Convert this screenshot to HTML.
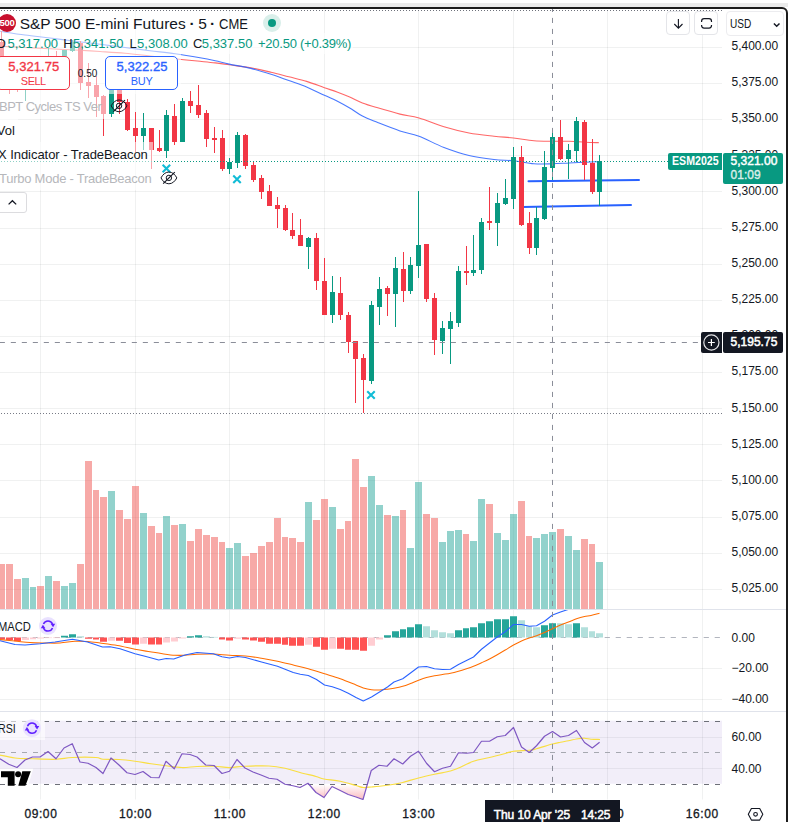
<!DOCTYPE html><html><head><meta charset="utf-8"><title>chart</title><style>
html,body{margin:0;padding:0;background:#fff;}
body{width:788px;height:822px;overflow:hidden;position:relative;font-family:"Liberation Sans",sans-serif;}
#root{position:absolute;left:0;top:0;width:788px;height:822px;overflow:hidden;background:#fff;}
svg{position:absolute;left:0;top:0;}
.t{position:absolute;white-space:nowrap;line-height:20px;height:20px;}
.b{position:absolute;}
#band{position:absolute;left:0;top:3px;width:788px;height:4px;background:#ebebeb;}
#frame{position:absolute;left:-10px;top:7px;width:794px;height:830px;border:2px solid #1c1c1c;border-radius:6px;box-sizing:content-box;}
</style></head><body><div id="root"><svg id="chart" width="788" height="822" viewBox="0 0 788 822" shape-rendering="auto"><line x1="40.5" y1="10" x2="40.5" y2="799.5" stroke="#202a2a" stroke-opacity="0.066" stroke-width="1"/><line x1="135.5" y1="10" x2="135.5" y2="799.5" stroke="#202a2a" stroke-opacity="0.066" stroke-width="1"/><line x1="229.5" y1="10" x2="229.5" y2="799.5" stroke="#202a2a" stroke-opacity="0.066" stroke-width="1"/><line x1="324.5" y1="10" x2="324.5" y2="799.5" stroke="#202a2a" stroke-opacity="0.066" stroke-width="1"/><line x1="418.5" y1="10" x2="418.5" y2="799.5" stroke="#202a2a" stroke-opacity="0.066" stroke-width="1"/><line x1="513.5" y1="10" x2="513.5" y2="799.5" stroke="#202a2a" stroke-opacity="0.066" stroke-width="1"/><line x1="607.5" y1="10" x2="607.5" y2="799.5" stroke="#202a2a" stroke-opacity="0.066" stroke-width="1"/><line x1="702.5" y1="10" x2="702.5" y2="799.5" stroke="#202a2a" stroke-opacity="0.066" stroke-width="1"/><line x1="0" y1="47.5" x2="722" y2="47.5" stroke="#202a2a" stroke-opacity="0.066" stroke-width="1"/><line x1="0" y1="83.5" x2="722" y2="83.5" stroke="#202a2a" stroke-opacity="0.066" stroke-width="1"/><line x1="0" y1="119.5" x2="722" y2="119.5" stroke="#202a2a" stroke-opacity="0.066" stroke-width="1"/><line x1="0" y1="155.5" x2="722" y2="155.5" stroke="#202a2a" stroke-opacity="0.066" stroke-width="1"/><line x1="0" y1="191.5" x2="722" y2="191.5" stroke="#202a2a" stroke-opacity="0.066" stroke-width="1"/><line x1="0" y1="228.5" x2="722" y2="228.5" stroke="#202a2a" stroke-opacity="0.066" stroke-width="1"/><line x1="0" y1="264.5" x2="722" y2="264.5" stroke="#202a2a" stroke-opacity="0.066" stroke-width="1"/><line x1="0" y1="300.5" x2="722" y2="300.5" stroke="#202a2a" stroke-opacity="0.066" stroke-width="1"/><line x1="0" y1="336.5" x2="722" y2="336.5" stroke="#202a2a" stroke-opacity="0.066" stroke-width="1"/><line x1="0" y1="372.5" x2="722" y2="372.5" stroke="#202a2a" stroke-opacity="0.066" stroke-width="1"/><line x1="0" y1="408.5" x2="722" y2="408.5" stroke="#202a2a" stroke-opacity="0.066" stroke-width="1"/><line x1="0" y1="444.5" x2="722" y2="444.5" stroke="#202a2a" stroke-opacity="0.066" stroke-width="1"/><line x1="0" y1="480.5" x2="722" y2="480.5" stroke="#202a2a" stroke-opacity="0.066" stroke-width="1"/><line x1="0" y1="517.5" x2="722" y2="517.5" stroke="#202a2a" stroke-opacity="0.066" stroke-width="1"/><line x1="0" y1="553.5" x2="722" y2="553.5" stroke="#202a2a" stroke-opacity="0.066" stroke-width="1"/><line x1="0" y1="589.5" x2="722" y2="589.5" stroke="#202a2a" stroke-opacity="0.066" stroke-width="1"/><line x1="0" y1="668.5" x2="722" y2="668.5" stroke="#202a2a" stroke-opacity="0.066" stroke-width="1"/><line x1="0" y1="699.5" x2="722" y2="699.5" stroke="#202a2a" stroke-opacity="0.066" stroke-width="1"/><line x1="0" y1="737.5" x2="722" y2="737.5" stroke="#202a2a" stroke-opacity="0.066" stroke-width="1"/><line x1="0" y1="768.5" x2="722" y2="768.5" stroke="#202a2a" stroke-opacity="0.066" stroke-width="1"/><rect x="0" y="720.7" width="722" height="63.1" fill="#7e57c2" fill-opacity="0.1"/><rect x="-2" y="564" width="7" height="45" fill="#ef5350" fill-opacity="0.5"/><rect x="6" y="564" width="7" height="45" fill="#ef5350" fill-opacity="0.5"/><rect x="14" y="579" width="7" height="30" fill="#ef5350" fill-opacity="0.5"/><rect x="22" y="578" width="7" height="31" fill="#26a69a" fill-opacity="0.5"/><rect x="30" y="587" width="6" height="22" fill="#26a69a" fill-opacity="0.5"/><rect x="37" y="586" width="7" height="23" fill="#ef5350" fill-opacity="0.5"/><rect x="45" y="576" width="7" height="33" fill="#26a69a" fill-opacity="0.5"/><rect x="53" y="581" width="7" height="28" fill="#ef5350" fill-opacity="0.5"/><rect x="61" y="586" width="7" height="23" fill="#26a69a" fill-opacity="0.5"/><rect x="69" y="583" width="7" height="26" fill="#26a69a" fill-opacity="0.5"/><rect x="77" y="564" width="7" height="45" fill="#ef5350" fill-opacity="0.5"/><rect x="85" y="461" width="7" height="148" fill="#ef5350" fill-opacity="0.5"/><rect x="93" y="490" width="6" height="119" fill="#ef5350" fill-opacity="0.5"/><rect x="100" y="497" width="7" height="112" fill="#ef5350" fill-opacity="0.5"/><rect x="108" y="491" width="7" height="118" fill="#26a69a" fill-opacity="0.5"/><rect x="116" y="510" width="7" height="99" fill="#ef5350" fill-opacity="0.5"/><rect x="124" y="519" width="7" height="90" fill="#ef5350" fill-opacity="0.5"/><rect x="132" y="486" width="7" height="123" fill="#ef5350" fill-opacity="0.5"/><rect x="140" y="513" width="7" height="96" fill="#26a69a" fill-opacity="0.5"/><rect x="148" y="526" width="7" height="83" fill="#ef5350" fill-opacity="0.5"/><rect x="156" y="533" width="6" height="76" fill="#ef5350" fill-opacity="0.5"/><rect x="163" y="516" width="7" height="93" fill="#26a69a" fill-opacity="0.5"/><rect x="171" y="525" width="7" height="84" fill="#ef5350" fill-opacity="0.5"/><rect x="179" y="524" width="7" height="85" fill="#26a69a" fill-opacity="0.5"/><rect x="187" y="541" width="7" height="68" fill="#ef5350" fill-opacity="0.5"/><rect x="195" y="529" width="7" height="80" fill="#ef5350" fill-opacity="0.5"/><rect x="203" y="535" width="7" height="74" fill="#ef5350" fill-opacity="0.5"/><rect x="211" y="537" width="7" height="72" fill="#ef5350" fill-opacity="0.5"/><rect x="219" y="542" width="6" height="67" fill="#ef5350" fill-opacity="0.5"/><rect x="226" y="548" width="7" height="61" fill="#26a69a" fill-opacity="0.5"/><rect x="234" y="543" width="7" height="66" fill="#26a69a" fill-opacity="0.5"/><rect x="242" y="556" width="7" height="53" fill="#ef5350" fill-opacity="0.5"/><rect x="250" y="553" width="7" height="56" fill="#ef5350" fill-opacity="0.5"/><rect x="258" y="546" width="7" height="63" fill="#ef5350" fill-opacity="0.5"/><rect x="266" y="542" width="7" height="67" fill="#ef5350" fill-opacity="0.5"/><rect x="274" y="518" width="7" height="91" fill="#ef5350" fill-opacity="0.5"/><rect x="282" y="537" width="6" height="72" fill="#ef5350" fill-opacity="0.5"/><rect x="289" y="538" width="7" height="71" fill="#ef5350" fill-opacity="0.5"/><rect x="297" y="542" width="7" height="67" fill="#ef5350" fill-opacity="0.5"/><rect x="305" y="502" width="7" height="107" fill="#26a69a" fill-opacity="0.5"/><rect x="313" y="520" width="7" height="89" fill="#ef5350" fill-opacity="0.5"/><rect x="321" y="499" width="7" height="110" fill="#ef5350" fill-opacity="0.5"/><rect x="329" y="507" width="7" height="102" fill="#26a69a" fill-opacity="0.5"/><rect x="337" y="529" width="7" height="80" fill="#ef5350" fill-opacity="0.5"/><rect x="345" y="521" width="6" height="88" fill="#ef5350" fill-opacity="0.5"/><rect x="352" y="459" width="7" height="150" fill="#ef5350" fill-opacity="0.5"/><rect x="360" y="487" width="7" height="122" fill="#ef5350" fill-opacity="0.5"/><rect x="368" y="476" width="7" height="133" fill="#26a69a" fill-opacity="0.5"/><rect x="376" y="505" width="7" height="104" fill="#26a69a" fill-opacity="0.5"/><rect x="384" y="515" width="7" height="94" fill="#ef5350" fill-opacity="0.5"/><rect x="392" y="516" width="7" height="93" fill="#26a69a" fill-opacity="0.5"/><rect x="400" y="510" width="6" height="99" fill="#ef5350" fill-opacity="0.5"/><rect x="407" y="548" width="7" height="61" fill="#26a69a" fill-opacity="0.5"/><rect x="415" y="482" width="7" height="127" fill="#26a69a" fill-opacity="0.5"/><rect x="423" y="514" width="7" height="95" fill="#ef5350" fill-opacity="0.5"/><rect x="431" y="518" width="7" height="91" fill="#ef5350" fill-opacity="0.5"/><rect x="439" y="542" width="7" height="67" fill="#26a69a" fill-opacity="0.5"/><rect x="447" y="531" width="7" height="78" fill="#26a69a" fill-opacity="0.5"/><rect x="455" y="530" width="7" height="79" fill="#26a69a" fill-opacity="0.5"/><rect x="463" y="534" width="6" height="75" fill="#ef5350" fill-opacity="0.5"/><rect x="470" y="541" width="7" height="68" fill="#26a69a" fill-opacity="0.5"/><rect x="478" y="499" width="7" height="110" fill="#26a69a" fill-opacity="0.5"/><rect x="486" y="504" width="7" height="105" fill="#ef5350" fill-opacity="0.5"/><rect x="494" y="533" width="7" height="76" fill="#26a69a" fill-opacity="0.5"/><rect x="502" y="540" width="7" height="69" fill="#26a69a" fill-opacity="0.5"/><rect x="510" y="514" width="7" height="95" fill="#26a69a" fill-opacity="0.5"/><rect x="518" y="501" width="7" height="108" fill="#ef5350" fill-opacity="0.5"/><rect x="526" y="536" width="6" height="73" fill="#ef5350" fill-opacity="0.5"/><rect x="533" y="538" width="7" height="71" fill="#26a69a" fill-opacity="0.5"/><rect x="541" y="534" width="7" height="75" fill="#26a69a" fill-opacity="0.5"/><rect x="549" y="532" width="7" height="77" fill="#26a69a" fill-opacity="0.5"/><rect x="557" y="529" width="7" height="80" fill="#ef5350" fill-opacity="0.5"/><rect x="565" y="536" width="7" height="73" fill="#26a69a" fill-opacity="0.5"/><rect x="573" y="550" width="7" height="59" fill="#26a69a" fill-opacity="0.5"/><rect x="581" y="539" width="7" height="70" fill="#ef5350" fill-opacity="0.5"/><rect x="589" y="544" width="6" height="65" fill="#ef5350" fill-opacity="0.5"/><rect x="596" y="562" width="7" height="47" fill="#26a69a" fill-opacity="0.5"/><line x1="1" y1="413.5" x2="722" y2="413.5" stroke="#787b86" stroke-width="1" stroke-dasharray="1 2"/><path d="M0 46.25C4.17 46.46 16.67 47.08 25 47.5C33.33 47.92 41.67 48.33 50 48.75C58.33 49.17 66.67 49.54 75 50C83.33 50.46 91.67 50.96 100 51.5C108.33 52.04 116.67 52.5 125 53.25C133.33 54 141.67 55.08 150 56C158.33 56.92 166.67 57.92 175 58.8C183.33 59.68 193.3 60.62 200 61.3C206.7 61.98 210.33 62.32 215.2 62.9C220.07 63.48 223.27 63.98 229.2 64.8C235.13 65.62 243.83 66.57 250.8 67.8C257.77 69.03 264.67 70.7 271 72.2C277.33 73.7 282.87 75.27 288.8 76.8C294.73 78.33 300.67 79.58 306.6 81.4C312.53 83.22 319.33 85.93 324.4 87.7C329.47 89.47 332.78 90.43 337 92C341.22 93.57 345.47 95.28 349.7 97.1C353.93 98.92 357.73 101.12 362.4 102.9C367.07 104.68 371.43 105.93 377.7 107.8C383.97 109.67 393.12 112.4 400 114.1C406.88 115.8 411.67 115.89 419 118C426.33 120.11 435.67 124.25 444 126.75C452.33 129.25 460.67 131.42 469 133C477.33 134.58 486.58 135.42 494 136.25C501.42 137.08 506.83 137.25 513.5 138C520.17 138.75 527.5 140.21 534 140.75C540.5 141.29 546.67 141.17 552.5 141.25C558.33 141.33 562.58 141.04 569 141.25C575.42 141.46 586.03 142.28 591 142.5C595.97 142.72 597.5 142.58 598.8 142.6" fill="none" stroke="#ff5252" stroke-opacity="0.88" stroke-width="1.1" stroke-linejoin="round"/><path d="M0 31.25C4.17 31.88 16.67 33.88 25 35C33.33 36.12 41.67 36.96 50 38C58.33 39.04 66.67 40.21 75 41.25C83.33 42.29 91.67 43.21 100 44.25C108.33 45.29 116.67 46.42 125 47.5C133.33 48.58 141.67 49.71 150 50.75C158.33 51.79 166.67 52.58 175 53.75C183.33 54.92 193.3 56.62 200 57.8C206.7 58.97 210.33 59.75 215.2 60.8C220.07 61.85 223.27 62.83 229.2 64.1C235.13 65.37 243.83 66.7 250.8 68.4C257.77 70.1 264.67 72.27 271 74.3C277.33 76.33 282.87 78.48 288.8 80.6C294.73 82.72 300.67 84.55 306.6 87C312.53 89.45 319.33 92.98 324.4 95.3C329.47 97.62 332.78 98.78 337 100.9C341.22 103.02 345.47 105.47 349.7 108C353.93 110.53 357.73 113.68 362.4 116.1C367.07 118.52 371.43 120.03 377.7 122.5C383.97 124.97 393.12 128.61 400 130.9C406.88 133.19 411.67 133.48 419 136.25C426.33 139.02 435.67 144.29 444 147.5C452.33 150.71 460.67 153.5 469 155.5C477.33 157.5 486.58 158.62 494 159.5C501.42 160.38 506.83 160.04 513.5 160.75C520.17 161.46 527.5 163.25 534 163.75C540.5 164.25 546.67 163.88 552.5 163.75C558.33 163.62 562.58 163.29 569 163C575.42 162.71 586.17 162.2 591 162C595.83 161.8 596.83 161.83 598 161.8" fill="none" stroke="#2962ff" stroke-opacity="0.85" stroke-width="1.1" stroke-linejoin="round"/><line x1="528.5" y1="181.3" x2="639" y2="180" stroke="#2962ff" stroke-width="2" stroke-linecap="round"/><line x1="522.5" y1="207" x2="631" y2="205" stroke="#2962ff" stroke-width="2" stroke-linecap="round"/><rect x="1" y="31" width="1" height="29" fill="#f23645"/><rect x="-1" y="42" width="5" height="15" fill="#f23645"/><rect x="9" y="60" width="1" height="34" fill="#f23645"/><rect x="7" y="62" width="5" height="24" fill="#f23645"/><rect x="17" y="68" width="1" height="24" fill="#f23645"/><rect x="15" y="70" width="5" height="18" fill="#f23645"/><rect x="25" y="70" width="1" height="31" fill="#089981"/><rect x="23" y="75" width="5" height="15" fill="#089981"/><rect x="33" y="58" width="1" height="24" fill="#089981"/><rect x="31" y="62" width="5" height="16" fill="#089981"/><rect x="40" y="58" width="1" height="14" fill="#f23645"/><rect x="38" y="60" width="5" height="6" fill="#f23645"/><rect x="48" y="48" width="1" height="22" fill="#089981"/><rect x="46" y="56" width="5" height="8" fill="#089981"/><rect x="56" y="51" width="1" height="15" fill="#f23645"/><rect x="54" y="57" width="5" height="5" fill="#f23645"/><rect x="64" y="50" width="1" height="14" fill="#089981"/><rect x="62" y="50" width="5" height="12" fill="#089981"/><rect x="72" y="40" width="1" height="12" fill="#089981"/><rect x="70" y="42" width="5" height="9" fill="#089981"/><rect x="80" y="41" width="1" height="49" fill="#f23645"/><rect x="78" y="43" width="5" height="40" fill="#f23645"/><rect x="88" y="63" width="1" height="35" fill="#f23645"/><rect x="86" y="82" width="5" height="4" fill="#f23645"/><rect x="96" y="76" width="1" height="41" fill="#f23645"/><rect x="94" y="85" width="5" height="12" fill="#f23645"/><rect x="103" y="95" width="1" height="41" fill="#f23645"/><rect x="101" y="96" width="5" height="18" fill="#f23645"/><rect x="111" y="88" width="1" height="29" fill="#089981"/><rect x="109" y="90" width="5" height="24" fill="#089981"/><rect x="119" y="86" width="1" height="28" fill="#f23645"/><rect x="117" y="88" width="5" height="14" fill="#f23645"/><rect x="127" y="99" width="1" height="32" fill="#f23645"/><rect x="125" y="102" width="5" height="28" fill="#f23645"/><rect x="135" y="112" width="1" height="40" fill="#f23645"/><rect x="133" y="128" width="5" height="8" fill="#f23645"/><rect x="143" y="113" width="1" height="37" fill="#089981"/><rect x="141" y="128" width="5" height="8" fill="#089981"/><rect x="151" y="128" width="1" height="41" fill="#f23645"/><rect x="149" y="128" width="5" height="22" fill="#f23645"/><rect x="159" y="130" width="1" height="22" fill="#f23645"/><rect x="157" y="148" width="5" height="3" fill="#f23645"/><rect x="166" y="110" width="1" height="48" fill="#089981"/><rect x="164" y="115" width="5" height="36" fill="#089981"/><rect x="174" y="104" width="1" height="41" fill="#f23645"/><rect x="172" y="116" width="5" height="26" fill="#f23645"/><rect x="182" y="98" width="1" height="44" fill="#089981"/><rect x="180" y="101" width="5" height="41" fill="#089981"/><rect x="190" y="91" width="1" height="22" fill="#f23645"/><rect x="188" y="101" width="5" height="5" fill="#f23645"/><rect x="198" y="85" width="1" height="33" fill="#f23645"/><rect x="196" y="105" width="5" height="10" fill="#f23645"/><rect x="206" y="110" width="1" height="37" fill="#f23645"/><rect x="204" y="113" width="5" height="26" fill="#f23645"/><rect x="214" y="127" width="1" height="26" fill="#f23645"/><rect x="212" y="138" width="5" height="2" fill="#f23645"/><rect x="222" y="130" width="1" height="41" fill="#f23645"/><rect x="220" y="138" width="5" height="31" fill="#f23645"/><rect x="229" y="158" width="1" height="16" fill="#089981"/><rect x="227" y="162" width="5" height="7" fill="#089981"/><rect x="237" y="132" width="1" height="36" fill="#089981"/><rect x="235" y="135" width="5" height="28" fill="#089981"/><rect x="245" y="134" width="1" height="35" fill="#f23645"/><rect x="243" y="135" width="5" height="31" fill="#f23645"/><rect x="253" y="162" width="1" height="20" fill="#f23645"/><rect x="251" y="165" width="5" height="15" fill="#f23645"/><rect x="261" y="175" width="1" height="24" fill="#f23645"/><rect x="259" y="178" width="5" height="14" fill="#f23645"/><rect x="269" y="185" width="1" height="21" fill="#f23645"/><rect x="267" y="191" width="5" height="15" fill="#f23645"/><rect x="277" y="197" width="1" height="31" fill="#f23645"/><rect x="275" y="205" width="5" height="4" fill="#f23645"/><rect x="285" y="205" width="1" height="26" fill="#f23645"/><rect x="283" y="208" width="5" height="22" fill="#f23645"/><rect x="292" y="213" width="1" height="26" fill="#f23645"/><rect x="290" y="230" width="5" height="6" fill="#f23645"/><rect x="300" y="219" width="1" height="27" fill="#f23645"/><rect x="298" y="235" width="5" height="11" fill="#f23645"/><rect x="308" y="237" width="1" height="32" fill="#089981"/><rect x="306" y="238" width="5" height="9" fill="#089981"/><rect x="316" y="233" width="1" height="57" fill="#f23645"/><rect x="314" y="238" width="5" height="43" fill="#f23645"/><rect x="324" y="258" width="1" height="57" fill="#f23645"/><rect x="322" y="281" width="5" height="34" fill="#f23645"/><rect x="332" y="276" width="1" height="47" fill="#089981"/><rect x="330" y="292" width="5" height="23" fill="#089981"/><rect x="340" y="277" width="1" height="43" fill="#f23645"/><rect x="338" y="293" width="5" height="22" fill="#f23645"/><rect x="348" y="312" width="1" height="41" fill="#f23645"/><rect x="346" y="315" width="5" height="27" fill="#f23645"/><rect x="355" y="341" width="1" height="62" fill="#f23645"/><rect x="353" y="341" width="5" height="18" fill="#f23645"/><rect x="363" y="354" width="1" height="59" fill="#f23645"/><rect x="361" y="358" width="5" height="22" fill="#f23645"/><rect x="371" y="301" width="1" height="83" fill="#089981"/><rect x="369" y="305" width="5" height="76" fill="#089981"/><rect x="379" y="277" width="1" height="48" fill="#089981"/><rect x="377" y="289" width="5" height="18" fill="#089981"/><rect x="387" y="286" width="1" height="30" fill="#f23645"/><rect x="385" y="288" width="5" height="6" fill="#f23645"/><rect x="395" y="257" width="1" height="70" fill="#089981"/><rect x="393" y="268" width="5" height="26" fill="#089981"/><rect x="403" y="252" width="1" height="50" fill="#f23645"/><rect x="401" y="269" width="5" height="22" fill="#f23645"/><rect x="410" y="257" width="1" height="37" fill="#089981"/><rect x="408" y="265" width="5" height="26" fill="#089981"/><rect x="418" y="191" width="1" height="87" fill="#089981"/><rect x="416" y="245" width="5" height="21" fill="#089981"/><rect x="426" y="244" width="1" height="58" fill="#f23645"/><rect x="424" y="244" width="5" height="55" fill="#f23645"/><rect x="434" y="293" width="1" height="62" fill="#f23645"/><rect x="432" y="298" width="5" height="42" fill="#f23645"/><rect x="442" y="321" width="1" height="33" fill="#089981"/><rect x="440" y="328" width="5" height="13" fill="#089981"/><rect x="450" y="312" width="1" height="52" fill="#089981"/><rect x="448" y="321" width="5" height="8" fill="#089981"/><rect x="458" y="266" width="1" height="61" fill="#089981"/><rect x="456" y="271" width="5" height="52" fill="#089981"/><rect x="466" y="246" width="1" height="39" fill="#f23645"/><rect x="464" y="271" width="5" height="2" fill="#f23645"/><rect x="473" y="235" width="1" height="41" fill="#089981"/><rect x="471" y="270" width="5" height="3" fill="#089981"/><rect x="481" y="218" width="1" height="56" fill="#089981"/><rect x="479" y="222" width="5" height="48" fill="#089981"/><rect x="489" y="187" width="1" height="43" fill="#f23645"/><rect x="487" y="221" width="5" height="2" fill="#f23645"/><rect x="497" y="193" width="1" height="53" fill="#089981"/><rect x="495" y="203" width="5" height="20" fill="#089981"/><rect x="505" y="179" width="1" height="26" fill="#089981"/><rect x="503" y="198" width="5" height="6" fill="#089981"/><rect x="513" y="147" width="1" height="62" fill="#089981"/><rect x="511" y="157" width="5" height="42" fill="#089981"/><rect x="521" y="146" width="1" height="80" fill="#f23645"/><rect x="519" y="157" width="5" height="68" fill="#f23645"/><rect x="529" y="212" width="1" height="42" fill="#f23645"/><rect x="527" y="223" width="5" height="25" fill="#f23645"/><rect x="536" y="207" width="1" height="48" fill="#089981"/><rect x="534" y="218" width="5" height="30" fill="#089981"/><rect x="544" y="151" width="1" height="69" fill="#089981"/><rect x="542" y="167" width="5" height="52" fill="#089981"/><rect x="552" y="133" width="1" height="47" fill="#089981"/><rect x="550" y="137" width="5" height="31" fill="#089981"/><rect x="560" y="120" width="1" height="40" fill="#f23645"/><rect x="558" y="137" width="5" height="22" fill="#f23645"/><rect x="568" y="144" width="1" height="35" fill="#089981"/><rect x="566" y="150" width="5" height="9" fill="#089981"/><rect x="576" y="117" width="1" height="45" fill="#089981"/><rect x="574" y="121" width="5" height="30" fill="#089981"/><rect x="584" y="120" width="1" height="60" fill="#f23645"/><rect x="582" y="122" width="5" height="43" fill="#f23645"/><rect x="592" y="139" width="1" height="55" fill="#f23645"/><rect x="590" y="163" width="5" height="29" fill="#f23645"/><rect x="599" y="155" width="1" height="51" fill="#089981"/><rect x="597" y="161" width="5" height="31" fill="#089981"/><line x1="1" y1="161.5" x2="668" y2="161.5" stroke="#089981" stroke-width="1" stroke-dasharray="1 2"/><path d="M162.65 164.85L170.15 172.35M170.15 164.85L162.65 172.35" stroke="#12bcd6" stroke-width="2.1" fill="none"/><path d="M233.25 175.55L240.75 183.05M240.75 175.55L233.25 183.05" stroke="#12bcd6" stroke-width="2.1" fill="none"/><path d="M367.25 391.25L374.75 398.75M374.75 391.25L367.25 398.75" stroke="#12bcd6" stroke-width="2.1" fill="none"/><line x1="0" y1="609.5" x2="786" y2="609.5" stroke="#e0e3eb" stroke-width="1"/><line x1="0" y1="711.5" x2="786" y2="711.5" stroke="#e0e3eb" stroke-width="1"/><clipPath id="cm"><rect x="0" y="610" width="722" height="101"/></clipPath><g clip-path="url(#cm)"><line x1="-0.3" y1="637.5" x2="722" y2="637.5" stroke="#b2b5be" stroke-width="1" stroke-dasharray="5.2 5.8"/><rect x="-2" y="637.5" width="7" height="2" fill="#ff5252"/><rect x="6" y="637.5" width="7" height="2.5" fill="#ff5252"/><rect x="14" y="637.5" width="7" height="3.75" fill="#ff5252"/><rect x="22" y="637.5" width="7" height="2.5" fill="#ffcdd2"/><rect x="30" y="637.5" width="6" height="1.75" fill="#ffcdd2"/><rect x="37" y="637.5" width="7" height="1" fill="#ffcdd2"/><rect x="45" y="637.5" width="7" height="0.6" fill="#ffcdd2"/><rect x="53" y="637.5" width="7" height="0.6" fill="#ffcdd2"/><rect x="61" y="635.75" width="7" height="1.75" fill="#26a69a"/><rect x="69" y="634.25" width="7" height="3.25" fill="#26a69a"/><rect x="77" y="636.25" width="7" height="1.25" fill="#b2dfdb"/><rect x="85" y="637.5" width="7" height="1.25" fill="#ff5252"/><rect x="93" y="637.5" width="6" height="2" fill="#ff5252"/><rect x="100" y="637.5" width="7" height="4.25" fill="#ff5252"/><rect x="108" y="637.5" width="7" height="3.25" fill="#ffcdd2"/><rect x="116" y="637.5" width="7" height="3.25" fill="#ff5252"/><rect x="124" y="637.5" width="7" height="5.5" fill="#ff5252"/><rect x="132" y="637.5" width="7" height="7" fill="#ff5252"/><rect x="140" y="637.5" width="7" height="6.25" fill="#ffcdd2"/><rect x="148" y="637.5" width="7" height="7" fill="#ff5252"/><rect x="156" y="637.5" width="6" height="7" fill="#ff5252"/><rect x="163" y="637.5" width="7" height="5" fill="#ffcdd2"/><rect x="171" y="637.5" width="7" height="4" fill="#ffcdd2"/><rect x="179" y="637.5" width="7" height="1" fill="#ffcdd2"/><rect x="187" y="636.25" width="7" height="1.25" fill="#26a69a"/><rect x="195" y="635.25" width="7" height="2.25" fill="#26a69a"/><rect x="203" y="636.25" width="7" height="1.25" fill="#b2dfdb"/><rect x="211" y="636.9" width="7" height="0.6" fill="#b2dfdb"/><rect x="219" y="637.5" width="6" height="2" fill="#ff5252"/><rect x="226" y="637.5" width="7" height="3" fill="#ff5252"/><rect x="234" y="637.5" width="7" height="1.25" fill="#ffcdd2"/><rect x="242" y="637.5" width="7" height="2" fill="#ff5252"/><rect x="250" y="637.5" width="7" height="3" fill="#ff5252"/><rect x="258" y="637.5" width="7" height="4.25" fill="#ff5252"/><rect x="266" y="637.5" width="7" height="6.25" fill="#ff5252"/><rect x="274" y="637.5" width="7" height="6.25" fill="#ff5252"/><rect x="282" y="637.5" width="6" height="7.25" fill="#ff5252"/><rect x="289" y="637.5" width="7" height="8.25" fill="#ff5252"/><rect x="297" y="637.5" width="7" height="8.25" fill="#ff5252"/><rect x="305" y="637.5" width="7" height="7.25" fill="#ffcdd2"/><rect x="313" y="637.5" width="7" height="9.25" fill="#ff5252"/><rect x="321" y="637.5" width="7" height="12.25" fill="#ff5252"/><rect x="329" y="637.5" width="7" height="11.25" fill="#ffcdd2"/><rect x="337" y="637.5" width="7" height="11.25" fill="#ff5252"/><rect x="345" y="637.5" width="6" height="12.25" fill="#ff5252"/><rect x="352" y="637.5" width="7" height="12.25" fill="#ff5252"/><rect x="360" y="637.5" width="7" height="13.25" fill="#ff5252"/><rect x="368" y="637.5" width="7" height="8.25" fill="#ffcdd2"/><rect x="376" y="637.5" width="7" height="2" fill="#ffcdd2"/><rect x="384" y="635.25" width="7" height="2.25" fill="#26a69a"/><rect x="392" y="631.25" width="7" height="6.25" fill="#26a69a"/><rect x="400" y="629.25" width="6" height="8.25" fill="#26a69a"/><rect x="407" y="627.25" width="7" height="10.25" fill="#26a69a"/><rect x="415" y="624.25" width="7" height="13.25" fill="#26a69a"/><rect x="423" y="626.25" width="7" height="11.25" fill="#b2dfdb"/><rect x="431" y="630.25" width="7" height="7.25" fill="#b2dfdb"/><rect x="439" y="632.25" width="7" height="5.25" fill="#b2dfdb"/><rect x="447" y="633.25" width="7" height="4.25" fill="#b2dfdb"/><rect x="455" y="630.25" width="7" height="7.25" fill="#26a69a"/><rect x="463" y="628.25" width="6" height="9.25" fill="#26a69a"/><rect x="470" y="627.25" width="7" height="10.25" fill="#26a69a"/><rect x="478" y="623.25" width="7" height="14.25" fill="#26a69a"/><rect x="486" y="621.25" width="7" height="16.25" fill="#26a69a"/><rect x="494" y="619.25" width="7" height="18.25" fill="#26a69a"/><rect x="502" y="619.25" width="7" height="18.25" fill="#26a69a"/><rect x="510" y="616.25" width="7" height="21.25" fill="#26a69a"/><rect x="518" y="620.25" width="7" height="17.25" fill="#b2dfdb"/><rect x="526" y="626.25" width="6" height="11.25" fill="#b2dfdb"/><rect x="533" y="627.25" width="7" height="10.25" fill="#b2dfdb"/><rect x="541" y="625.25" width="7" height="12.25" fill="#26a69a"/><rect x="549" y="623.25" width="7" height="14.25" fill="#26a69a"/><rect x="557" y="623.25" width="7" height="14.25" fill="#b2dfdb"/><rect x="565" y="624.25" width="7" height="13.25" fill="#b2dfdb"/><rect x="573" y="623.25" width="7" height="14.25" fill="#26a69a"/><rect x="581" y="627.25" width="7" height="10.25" fill="#b2dfdb"/><rect x="589" y="631.25" width="6" height="6.25" fill="#b2dfdb"/><rect x="596" y="633.25" width="7" height="4.25" fill="#b2dfdb"/><path d="M0 639.6C2.5 639.83 10 640.5 15 641C20 641.5 25 642.27 30 642.6C35 642.93 40 642.93 45 643C50 643.07 55 643.29 60 643C65 642.71 70.42 641.5 75 641.25C79.58 641 83.33 641.21 87.5 641.5C91.67 641.79 95 642.33 100 643C105 643.67 111.67 644.46 117.5 645.5C123.33 646.54 129.58 648.21 135 649.25C140.42 650.29 145.42 651 150 651.75C154.58 652.5 158.33 653.17 162.5 653.75C166.67 654.33 171.25 655 175 655.25C178.75 655.5 181.33 655.42 185 655.25C188.67 655.08 192.29 654.46 197 654.25C201.71 654.04 207.83 653.83 213.25 654C218.67 654.17 224.12 654.92 229.5 655.25C234.88 655.58 240.17 655.5 245.5 656C250.83 656.5 256.17 657.38 261.5 658.25C266.83 659.12 272.21 660.12 277.5 661.25C282.79 662.38 288.12 663.75 293.25 665C298.38 666.25 303.04 667.29 308.25 668.75C313.46 670.21 319.17 672.08 324.5 673.75C329.83 675.42 335 676.88 340.25 678.75C345.5 680.62 352.17 683.46 356 685C359.83 686.54 360.67 687.21 363.25 688C365.83 688.79 368.79 689.42 371.5 689.75C374.21 690.08 376.83 690.08 379.5 690C382.17 689.92 385.08 689.54 387.5 689.25C389.92 688.96 391.46 688.75 394 688.25C396.54 687.75 400 687.04 402.75 686.25C405.5 685.46 407.88 684.5 410.5 683.5C413.12 682.5 415.83 681.25 418.5 680.25C421.17 679.25 423.83 678.25 426.5 677.5C429.17 676.75 431.83 676.25 434.5 675.75C437.17 675.25 439.83 674.92 442.5 674.5C445.17 674.08 447.83 673.79 450.5 673.25C453.17 672.71 455.83 672 458.5 671.25C461.17 670.5 464 669.58 466.5 668.75C469 667.92 471 667.25 473.5 666.25C476 665.25 478.83 663.96 481.5 662.75C484.17 661.54 486.88 660.33 489.5 659C492.12 657.67 494.62 656.25 497.25 654.75C499.88 653.25 502.54 651.62 505.25 650C507.96 648.38 510.79 646.5 513.5 645C516.21 643.5 518.88 642.17 521.5 641C524.12 639.83 526.75 638.88 529.25 638C531.75 637.12 533.96 636.67 536.5 635.75C539.04 634.83 541.83 633.67 544.5 632.5C547.17 631.33 549.83 630 552.5 628.75C555.17 627.5 557.83 626.12 560.5 625C563.17 623.88 565.83 623.04 568.5 622C571.17 620.96 573.83 619.67 576.5 618.75C579.17 617.83 582.08 617.04 584.5 616.5C586.92 615.96 588.5 616.04 591 615.5C593.5 614.96 598.08 613.62 599.5 613.25" fill="none" stroke="#ff6d00" stroke-width="1.05" stroke-linejoin="round"/><path d="M0 640.75 L15 644.5 L25 645 L40 643.75 L55 642 L72.5 639.25 L87.5 642 L102.5 647 L110 646.75 L120 648.75 L135 653.75 L145 656.25 L158.75 660 L166.25 658.5 L173.75 659 L185 655 L197 652.5 L213.25 653.75 L222 656.75 L229.5 658 L237.5 656.5 L245.5 657.5 L261.5 662 L277.5 666.25 L293.25 672.5 L300.25 674.25 L308.25 675.5 L316.5 679.5 L324.5 685 L332.25 686.75 L340.25 689.5 L348.25 693.25 L356 697.5 L363.25 701 L371.5 697 L379.5 692 L387.5 687 L394 682 L402.75 678.75 L410.5 673 L418.5 667 L426.5 666.5 L434.5 668.75 L442.5 669.5 L450.5 669.25 L458.5 664.5 L466.5 660.5 L473.5 657 L481.5 649.25 L489.5 643 L497.25 637 L505.25 631.75 L513.5 624.5 L521.5 624.5 L529.25 626.25 L536.5 625.75 L544.5 621.25 L552.5 615 L560.5 612 L566.5 610 L576.5 607 L600 603" fill="none" stroke="#2962ff" stroke-width="1.05" stroke-linejoin="round"/></g><clipPath id="cm2"><rect x="540" y="600" width="70" height="10"/></clipPath><clipPath id="cr"><rect x="0" y="712" width="722" height="88"/></clipPath><g clip-path="url(#cr)"><linearGradient id="os" x1="0" y1="784.5" x2="0" y2="800" gradientUnits="userSpaceOnUse"><stop offset="0" stop-color="#f23645" stop-opacity="0"/><stop offset="1" stop-color="#f23645" stop-opacity="0.35"/></linearGradient><clipPath id="below"><rect x="0" y="784.5" width="722" height="20"/></clipPath><path d="M0 758.75 L8.75 764.25 L17 767.5 L25 760 L32.5 757 L40 757 L48 751.5 L56 758.75 L64 748 L72.25 743.75 L80 762 L88 763.25 L96 767.5 L103 773.5 L111 758 L119 765 L127 772.75 L135 774.5 L143 771.5 L151 777.5 L159 777.75 L166 761.25 L174.25 768.75 L182 753.75 L190 754.5 L197 757 L205.75 765 L214 765.5 L222 773.5 L229.5 771.25 L237 759.5 L245 768 L253 772 L261 775 L269 778.25 L277 779.25 L285 784.25 L293 785.75 L300 787.5 L308 783.25 L316 792.5 L324 797.5 L332 786.5 L340.25 790.5 L348.25 794.5 L356 797 L363 799.5 L371.25 770.5 L379 765.25 L387 766.25 L394 758.75 L402.75 764 L410.5 756.25 L418.5 751.25 L426.5 763.25 L434.5 771.75 L442.5 768.25 L450.5 766.25 L458.5 752.75 L466.5 753.25 L473.5 752.5 L481.5 741.25 L489.5 741.25 L497.25 736.75 L505.25 735.5 L513.5 727.5 L521.5 747 L529.25 752.5 L536.5 745.75 L544.5 736.25 L552.5 731.5 L560.5 737 L568.5 735.5 L576.5 730.5 L584.5 742.5 L592.3 748 L599.6 742.3 L599.6 784.5 L0 784.5 Z" fill="url(#os)" clip-path="url(#below)"/><line x1="0" y1="721.5" x2="722" y2="721.5" stroke="#6d6f78" stroke-width="1" stroke-dasharray="5 6"/><line x1="0" y1="784.5" x2="722" y2="784.5" stroke="#6d6f78" stroke-width="1" stroke-dasharray="5 6"/><line x1="0" y1="752.5" x2="722" y2="752.5" stroke="#a6a8b0" stroke-width="1" stroke-dasharray="5 6"/><path d="M0 755C2.5 755.5 9.58 757.38 15 758C20.42 758.62 25.67 758.54 32.5 758.75C39.33 758.96 49.38 759.46 56 759.25C62.62 759.04 65.58 757.79 72.25 757.5C78.92 757.21 90.88 757.21 96 757.5C101.12 757.79 99.17 758.92 103 759.25C106.83 759.58 113.67 759.17 119 759.5C124.33 759.83 129.67 760.54 135 761.25C140.33 761.96 145.83 763 151 763.75C156.17 764.5 160.83 765.12 166 765.75C171.17 766.38 176.83 767.38 182 767.5C187.17 767.62 191.67 766.71 197 766.5C202.33 766.29 208.58 766.08 214 766.25C219.42 766.42 224.33 767.5 229.5 767.5C234.67 767.5 238.42 766.5 245 766.25C251.58 766 262.33 765.67 269 766C275.67 766.33 279.83 767.17 285 768.25C290.17 769.33 294.83 771.12 300 772.5C305.17 773.88 312 775.42 316 776.5C320 777.58 319.96 778.21 324 779C328.04 779.79 334.92 780.17 340.25 781.25C345.58 782.33 352.17 784.46 356 785.5C359.83 786.54 360.67 787.25 363.25 787.5C365.83 787.75 368.79 787.21 371.5 787C374.21 786.79 375.75 786.71 379.5 786.25C383.25 785.79 390.12 784.88 394 784.25C397.88 783.62 398.67 783.54 402.75 782.5C406.83 781.46 413.21 779.38 418.5 778C423.79 776.62 429.17 775.42 434.5 774.25C439.83 773.08 446.5 772.04 450.5 771C454.5 769.96 454.67 769.62 458.5 768C462.33 766.38 468.33 763 473.5 761.25C478.67 759.5 484.21 758.79 489.5 757.5C494.79 756.21 501.25 754.54 505.25 753.5C509.25 752.46 509.5 751.79 513.5 751.25C517.5 750.71 525.42 750.67 529.25 750.25C533.08 749.83 532.62 749.79 536.5 748.75C540.38 747.71 548.5 745.08 552.5 744C556.5 742.92 557.83 742.79 560.5 742.25C563.17 741.71 565.83 741.29 568.5 740.75C571.17 740.21 573.83 739.42 576.5 739C579.17 738.58 582.08 738.21 584.5 738.25C586.92 738.29 588.42 739.04 591 739.25C593.58 739.46 598.5 739.46 600 739.5" fill="none" stroke="#f9de42" stroke-width="1.25" stroke-linejoin="round"/><path d="M0 758.75 L8.75 764.25 L17 767.5 L25 760 L32.5 757 L40 757 L48 751.5 L56 758.75 L64 748 L72.25 743.75 L80 762 L88 763.25 L96 767.5 L103 773.5 L111 758 L119 765 L127 772.75 L135 774.5 L143 771.5 L151 777.5 L159 777.75 L166 761.25 L174.25 768.75 L182 753.75 L190 754.5 L197 757 L205.75 765 L214 765.5 L222 773.5 L229.5 771.25 L237 759.5 L245 768 L253 772 L261 775 L269 778.25 L277 779.25 L285 784.25 L293 785.75 L300 787.5 L308 783.25 L316 792.5 L324 797.5 L332 786.5 L340.25 790.5 L348.25 794.5 L356 797 L363 799.5 L371.25 770.5 L379 765.25 L387 766.25 L394 758.75 L402.75 764 L410.5 756.25 L418.5 751.25 L426.5 763.25 L434.5 771.75 L442.5 768.25 L450.5 766.25 L458.5 752.75 L466.5 753.25 L473.5 752.5 L481.5 741.25 L489.5 741.25 L497.25 736.75 L505.25 735.5 L513.5 727.5 L521.5 747 L529.25 752.5 L536.5 745.75 L544.5 736.25 L552.5 731.5 L560.5 737 L568.5 735.5 L576.5 730.5 L584.5 742.5 L592.3 748 L599.6 742.3" fill="none" stroke="#7e57c2" stroke-width="1.2" stroke-linejoin="round"/></g><line x1="552.5" y1="6.9" x2="552.5" y2="794" stroke="#8b8e99" stroke-width="1" stroke-dasharray="5.1 5.9"/><line x1="-0.2" y1="342.5" x2="701" y2="342.5" stroke="#8b8e99" stroke-width="1" stroke-dasharray="5.1 5.9"/><line x1="1" y1="10.5" x2="722" y2="10.5" stroke="#6f727c" stroke-width="1" stroke-dasharray="1 2"/></svg><div class="b" style="left:0px;top:12px;width:284px;height:21px;background:rgba(255,255,255,0.55);"></div><div class="b" style="left:0px;top:33px;width:353px;height:21px;background:rgba(255,255,255,0.55);"></div><div class="b" style="left:0px;top:54px;width:181px;height:40px;background:rgba(255,255,255,0.55);"></div><div class="b" style="left:0px;top:94px;width:107px;height:25px;background:rgba(255,255,255,0.55);"></div><div class="b" style="left:0px;top:119px;width:18px;height:23px;background:rgba(255,255,255,0.55);"></div><div class="b" style="left:0px;top:142px;width:153px;height:25px;background:rgba(255,255,255,0.55);"></div><div class="b" style="left:0px;top:167px;width:154px;height:23px;background:rgba(255,255,255,0.55);"></div><div class="b" style="left:-1.7px;top:14px;width:18px;height:18px;border-radius:9px;background:#c8102e;"></div><div class="t " style="left:-0.4px;top:12.6px;font-size:9.5px;color:#fff;font-weight:bold;letter-spacing:-0.3px;">500</div><div class="t title" style="left:19.7px;top:13.5px;font-size:15.5px;color:#131722;">S&amp;P 500 E-mini Futures</div><div class="t title" style="left:189.5px;top:13.5px;font-size:15.5px;color:#131722;font-weight:bold;">·</div><div class="t title" style="left:198.3px;top:13.5px;font-size:15.5px;color:#131722;">5</div><div class="t title" style="left:210px;top:13.5px;font-size:15.5px;color:#131722;font-weight:bold;">·</div><div class="t title" style="left:218.6px;top:13.5px;font-size:15.5px;color:#131722;transform:scaleX(0.84);transform-origin:0 50%;">CME</div><div class="b" style="left:263px;top:14px;width:18px;height:18px;border-radius:9px;background:#d9efea;"></div><div class="b" style="left:268px;top:19px;width:8px;height:8px;border-radius:4px;background:#089981;"></div><div class="t ohl" style="left:-4.3px;top:33.75px;font-size:13px;color:#131722;">O</div><div class="t ohv" style="left:7.5px;top:33.75px;font-size:13px;color:#089981;">5,317.00</div><div class="t ohl" style="left:63.2px;top:33.75px;font-size:13px;color:#131722;">H</div><div class="t ohv" style="left:73px;top:33.75px;font-size:13px;color:#089981;">5,341.50</div><div class="t ohl" style="left:129.5px;top:33.75px;font-size:13px;color:#131722;">L</div><div class="t ohv" style="left:137.1px;top:33.75px;font-size:13px;color:#089981;">5,308.00</div><div class="t ohl" style="left:193px;top:33.75px;font-size:13px;color:#131722;">C</div><div class="t ohv" style="left:201.8px;top:33.75px;font-size:13px;color:#089981;">5,337.50</div><div class="t ohc" style="left:258px;top:33.75px;font-size:13px;color:#089981;letter-spacing:-0.25px;">+20.50 (+0.39%)</div><div class="b" style="left:-4px;top:56px;width:73.5px;height:34px;box-sizing:border-box;border:1px solid #f23645;border-radius:5px;background:#fff;"></div><div class="b" style="left:105px;top:56px;width:73px;height:34px;box-sizing:border-box;border:1px solid #2962ff;border-radius:5px;background:#fff;"></div><div class="t sellp" style="left:8.3px;top:56.5px;font-size:13px;color:#f23645;letter-spacing:0.05px;-webkit-text-stroke:0.35px #f23645;">5,321.75</div><div class="t selll" style="left:20.8px;top:70.5px;font-size:11px;color:#f23645;letter-spacing:-0.5px;">SELL</div><div class="t buyp" style="left:116.5px;top:56.5px;font-size:13px;color:#2962ff;letter-spacing:0.05px;-webkit-text-stroke:0.35px #2962ff;">5,322.25</div><div class="t buyl" style="left:130.8px;top:70.5px;font-size:11px;color:#2962ff;letter-spacing:-0.3px;">BUY</div><div class="t spread" style="left:77.8px;top:63.6px;font-size:10px;color:#131722;">0.50</div><div class="t bpt" style="left:-1px;top:96.8px;font-size:13px;color:#b6b7bb;letter-spacing:-0.5px;">BPT Cycles TS Ver</div><div class="t vol" style="left:-3.2px;top:120.6px;font-size:13px;color:#131722;">Vol</div><div class="t xind" style="left:-2px;top:144.8px;font-size:13px;color:#131722;letter-spacing:-0.05px;">X Indicator - TradeBeacon</div><div class="t turbo" style="left:-1px;top:168.8px;font-size:13px;color:#b6b7bb;letter-spacing:-0.25px;">Turbo Mode - TradeBeacon</div><div class="b" style="left:-4px;top:192px;width:31px;height:21px;box-sizing:border-box;border:1px solid #dcdcdf;border-radius:3px;background:#fff;"></div><div class="b" style="left:666px;top:11px;width:24px;height:24px;box-sizing:border-box;border:1px solid #e4e5e9;border-radius:4px;background:#fff;"></div><div class="b" style="left:694px;top:11px;width:24px;height:24px;box-sizing:border-box;border:1px solid #e4e5e9;border-radius:4px;background:#fff;"></div><div class="b" style="left:722px;top:9px;width:64px;height:813px;background:#fff;"></div><div class="b" style="left:726px;top:11px;width:58px;height:25px;box-sizing:border-box;border:1px solid #ececef;border-radius:4px;background:#fff;"></div><div class="b" style="left:722px;top:609px;width:64px;height:1px;background:#e0e3eb;"></div><div class="b" style="left:722px;top:711px;width:64px;height:1px;background:#e0e3eb;"></div><div class="t usd" style="left:730.2px;top:13.6px;font-size:12px;color:#131722;transform:scaleX(0.84);transform-origin:0 50%;">USD</div><div class="t pl" style="left:731.5px;top:36.2px;font-size:12px;color:#131722;">5,400.00</div><div class="t pl" style="left:731.5px;top:72.33px;font-size:12px;color:#131722;">5,375.00</div><div class="t pl" style="left:731.5px;top:108.46px;font-size:12px;color:#131722;">5,350.00</div><div class="t pl" style="left:731.5px;top:144.59px;font-size:12px;color:#131722;">5,325.00</div><div class="t pl" style="left:731.5px;top:180.72px;font-size:12px;color:#131722;">5,300.00</div><div class="t pl" style="left:731.5px;top:216.85px;font-size:12px;color:#131722;">5,275.00</div><div class="t pl" style="left:731.5px;top:252.98px;font-size:12px;color:#131722;">5,250.00</div><div class="t pl" style="left:731.5px;top:289.11px;font-size:12px;color:#131722;">5,225.00</div><div class="t pl" style="left:731.5px;top:325.24px;font-size:12px;color:#131722;">5,200.00</div><div class="t pl" style="left:731.5px;top:361.37px;font-size:12px;color:#131722;">5,175.00</div><div class="t pl" style="left:731.5px;top:397.5px;font-size:12px;color:#131722;">5,150.00</div><div class="t pl" style="left:731.5px;top:433.63px;font-size:12px;color:#131722;">5,125.00</div><div class="t pl" style="left:731.5px;top:469.76px;font-size:12px;color:#131722;">5,100.00</div><div class="t pl" style="left:731.5px;top:505.89px;font-size:12px;color:#131722;">5,075.00</div><div class="t pl" style="left:731.5px;top:542.02px;font-size:12px;color:#131722;">5,050.00</div><div class="t pl" style="left:731.5px;top:578.15px;font-size:12px;color:#131722;">5,025.00</div><div class="t pl" style="left:731.5px;top:627.5px;font-size:12px;color:#131722;">0.00</div><div class="t pl" style="left:731.5px;top:657.7px;font-size:12px;color:#131722;">−20.00</div><div class="t pl" style="left:731.5px;top:688.6px;font-size:12px;color:#131722;">−40.00</div><div class="t pl" style="left:731.5px;top:727px;font-size:12px;color:#131722;">60.00</div><div class="t pl" style="left:731.5px;top:759px;font-size:12px;color:#131722;">40.00</div><div class="b" style="left:668px;top:153px;width:54px;height:16.5px;background:#089981;border-radius:2px 0 0 2px;"></div><div class="t esm" style="left:671.8px;top:151px;font-size:12px;color:#fff;transform:scaleX(0.885);transform-origin:0 50%;font-weight:bold;">ESM2025</div><div class="b" style="left:723px;top:153px;width:60px;height:31px;background:#089981;border-radius:2px;"></div><div class="t cur" style="left:730.6px;top:150.8px;font-size:12px;color:#fff;-webkit-text-stroke:0.45px #fff;">5,321.00</div><div class="t cd" style="left:730.6px;top:165px;font-size:12px;color:rgba(255,255,255,0.75);-webkit-text-stroke:0.45px rgba(255,255,255,0.75);">01:09</div><div class="b" style="left:701px;top:332px;width:21px;height:21px;background:#131722;border-radius:2px 0 0 2px;"></div><div class="b" style="left:723px;top:332px;width:60px;height:21px;background:#131722;border-radius:2px;"></div><div class="t chp" style="left:730.6px;top:332.3px;font-size:12px;color:#fff;-webkit-text-stroke:0.5px #fff;">5,195.75</div><div class="b" style="left:0px;top:616px;width:33px;height:21px;background:rgba(255,255,255,0.55);"></div><div class="t macd" style="left:-2px;top:616.8px;font-size:13px;color:#131722;transform:scaleX(0.86);transform-origin:0 50%;">MACD</div><div class="b" style="left:0px;top:720.5px;width:45px;height:19px;background:rgba(255,255,255,0.6);"></div><div class="t rsi" style="left:-2px;top:718.8px;font-size:13px;color:#131722;transform:scaleX(0.82);transform-origin:0 50%;">RSI</div><div class="b" style="left:0;top:800px;width:786px;height:22px;background:#fff;"></div><div class="t tl" style="left:10.92px;top:803.6px;font-size:12px;color:#131722;letter-spacing:0.6px;width:60px;text-align:center;-webkit-text-stroke:0.3px #131722;">09:00</div><div class="t tl" style="left:105.41px;top:803.6px;font-size:12px;color:#131722;letter-spacing:0.6px;width:60px;text-align:center;-webkit-text-stroke:0.3px #131722;">10:00</div><div class="t tl" style="left:199.9px;top:803.6px;font-size:12px;color:#131722;letter-spacing:0.6px;width:60px;text-align:center;-webkit-text-stroke:0.3px #131722;">11:00</div><div class="t tl" style="left:294.38px;top:803.6px;font-size:12px;color:#131722;letter-spacing:0.6px;width:60px;text-align:center;-webkit-text-stroke:0.3px #131722;">12:00</div><div class="t tl" style="left:388.87px;top:803.6px;font-size:12px;color:#131722;letter-spacing:0.6px;width:60px;text-align:center;-webkit-text-stroke:0.3px #131722;">13:00</div><div class="t tl" style="left:483.36px;top:803.6px;font-size:12px;color:#131722;letter-spacing:0.6px;width:60px;text-align:center;-webkit-text-stroke:0.3px #131722;">14:00</div><div class="t tl" style="left:577.85px;top:803.6px;font-size:12px;color:#131722;letter-spacing:0.6px;width:60px;text-align:center;-webkit-text-stroke:0.3px #131722;">15:00</div><div class="t tl" style="left:672.34px;top:803.6px;font-size:12px;color:#131722;letter-spacing:0.6px;width:60px;text-align:center;-webkit-text-stroke:0.3px #131722;">16:00</div><div class="b" style="left:485px;top:800px;width:135px;height:22px;background:#131722;"></div><div class="t chd" style="left:493.8px;top:804.7px;font-size:12px;color:#fff;letter-spacing:-0.1px;-webkit-text-stroke:0.5px #fff;">Thu 10 Apr '25</div><div class="t cht" style="left:581px;top:804.7px;font-size:12px;color:#fff;letter-spacing:-0.15px;-webkit-text-stroke:0.5px #fff;">14:25</div><svg id="ov" width="788" height="822" viewBox="0 0 788 822"><g transform="translate(119.05 105.85)" fill="none" stroke="#131722" stroke-width="1"><path d="M-7.9 0C-6.4 -3 -3.6 -5.9 0 -5.9C3.6 -5.9 6.4 -3 7.9 0C6.4 3 3.6 5.9 0 5.9C-3.6 5.9 -6.4 3 -7.9 0Z"/><circle cx="0" cy="0" r="2.7"/><path d="M-5.7 5.8L5.9 -5.8" stroke-width="1.2"/></g><g transform="translate(168.9 177.9)" fill="none" stroke="#131722" stroke-width="1"><path d="M-7.9 0C-6.4 -3 -3.6 -5.9 0 -5.9C3.6 -5.9 6.4 -3 7.9 0C6.4 3 3.6 5.9 0 5.9C-3.6 5.9 -6.4 3 -7.9 0Z"/><circle cx="0" cy="0" r="2.7"/><path d="M-5.7 5.8L5.9 -5.8" stroke-width="1.2"/></g><path d="M8.6 204.4L12.4 200.7L16.2 204.4" fill="none" stroke="#131722" stroke-width="1.3"/><path d="M678.4 18.9V28.2M674.3 24L678.4 28.2L682.5 24" fill="none" stroke="#131722" stroke-width="1.1"/><path d="M701.6 21.9V21.2Q701.6 18.7 704.1 18.7H709Q711.5 18.7 711.5 21.2V21.9M701.6 25.1V25.6Q701.6 28.1 704.1 28.1H709Q711.5 28.1 711.5 25.6V25.1" fill="none" stroke="#131722" stroke-width="1.2"/><path d="M773.9 23.5L776.7 26.2L779.5 23.5" fill="none" stroke="#131722" stroke-width="1.5"/><g transform="translate(48 626)"><circle r="9" fill="#e9e1ff"/><path d="M-4.5 -2A4.8 4.8 0 0 1 4.5 -1.9" fill="none" stroke="#5f1fff" stroke-width="1.5"/><path d="M2.6 -2.3L7.2 -2.3L5.1 1.3Z" fill="#5f1fff"/><g transform="rotate(180)"><path d="M-4.5 -2A4.8 4.8 0 0 1 4.5 -1.9" fill="none" stroke="#5f1fff" stroke-width="1.5"/><path d="M2.6 -2.3L7.2 -2.3L5.1 1.3Z" fill="#5f1fff"/></g></g><g transform="translate(32 728.2)"><circle r="9" fill="#e9e1ff"/><path d="M-4.5 -2A4.8 4.8 0 0 1 4.5 -1.9" fill="none" stroke="#5f1fff" stroke-width="1.5"/><path d="M2.6 -2.3L7.2 -2.3L5.1 1.3Z" fill="#5f1fff"/><g transform="rotate(180)"><path d="M-4.5 -2A4.8 4.8 0 0 1 4.5 -1.9" fill="none" stroke="#5f1fff" stroke-width="1.5"/><path d="M2.6 -2.3L7.2 -2.3L5.1 1.3Z" fill="#5f1fff"/></g></g><circle cx="711.4" cy="342.5" r="7.6" fill="none" stroke="#e6e6e8" stroke-width="1.2"/><path d="M708 342.5H714.8M711.4 339.1V345.9" stroke="#fff" stroke-width="1.2" fill="none"/><path d="M751.4 808.5H759.7L762.8 814.3L759.7 820.1H751.4L748.3 814.3Z" fill="none" stroke="#131722" stroke-width="1.1" stroke-linejoin="round"/><circle cx="755.55" cy="814.3" r="1.85" fill="none" stroke="#131722" stroke-width="1.1"/><path d="M0 768.8H33.2L28.7 784H0Z" fill="#fff"/><path d="M1 771.3H14.6V785.8H7.8V777.3H1Z" fill="#000"/><circle cx="18.1" cy="774.2" r="3" fill="#000"/><path d="M22.3 771.3H30.8L25.4 785.8H18.3Z" fill="#000"/></svg><div id="band"></div><div id="frame"></div></div></body></html>
